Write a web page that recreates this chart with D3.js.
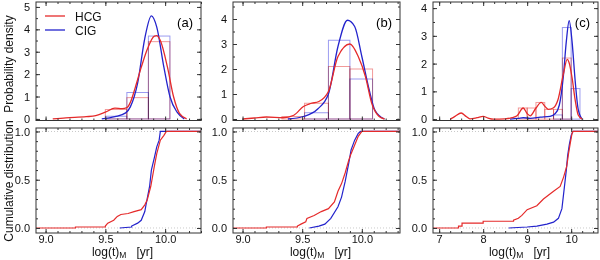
<!DOCTYPE html>
<html>
<head>
<meta charset="utf-8">
<script src="https://cdn.jsdelivr.net/npm/d3@7"></script>
<style>
  body { margin: 0; background: #fff; }
  svg { font-family: "Liberation Sans", Arial, sans-serif; }
</style>
</head>
<body>
<div id="chart"></div>
<script>
// ---- data ----
var seriesNames = ["HCG", "CIG"];
var panelLabels = ["(a)", "(b)", "(c)"];

// kernel density curves, [log t, density]
var hcgKdeA = [[9.06,0],[9.17,0.05],[9.34,0.1],[9.42,0.15],[9.5,0.3],[9.58,0.48],[9.64,0.46],[9.68,0.5],[9.71,0.75],[9.75,1.4],[9.8,2.3],[9.85,3.1],[9.91,3.7],[9.93,3.72],[9.96,3.5],[10.02,2.3],[10.07,1.0],[10.12,0.25],[10.18,0]];
var cigKdeA = [[9.47,0],[9.58,0.1],[9.67,0.27],[9.71,0.55],[9.77,1.6],[9.83,3.6],[9.885,4.6],[9.93,4.1],[9.99,2.3],[10.04,1.0],[10.1,0.3],[10.16,0]];
var hcgKdeB = [[9.0,0],[9.1,0.04],[9.2,0.08],[9.34,0.05],[9.43,0.15],[9.51,0.5],[9.57,0.62],[9.64,0.7],[9.72,1.1],[9.8,2.5],[9.9,3.0],[9.97,2.5],[10.03,1.7],[10.085,0.6],[10.145,0.1],[10.19,0]];
var cigKdeB = [[9.38,0],[9.51,0.1],[9.63,0.4],[9.72,1.0],[9.8,2.9],[9.88,3.95],[9.94,3.7],[10.0,2.5],[10.06,1.2],[10.11,0.35],[10.19,0]];
var hcgKdeC = [[7.25,0],[7.36,0.1],[7.5,0.22],[7.61,0.1],[7.7,0.01],[7.86,0.05],[8.0,0.1],[8.11,0.04],[8.23,0],[8.5,0.01],[8.66,0.05],[8.77,0.12],[8.91,0.4],[9.0,0.2],[9.07,0.12],[9.2,0.4],[9.32,0.6],[9.41,0.45],[9.48,0.35],[9.59,0.4],[9.7,0.7],[9.82,1.6],[9.91,2.15],[9.95,2.05],[10.02,1.5],[10.09,0.7],[10.16,0.15],[10.25,0]];
var cigKdeC = [[8.61,0],[8.8,0.03],[8.91,0.05],[9.07,0.03],[9.3,0.07],[9.52,0.1],[9.64,0.2],[9.73,0.5],[9.82,1.5],[9.89,2.8],[9.955,3.55],[10.02,2.8],[10.09,1.4],[10.16,0.35],[10.25,0]];

// histograms: bin edges and heights
var binEdgesA = [9.5, 9.68, 9.86, 10.04];
var hcgHistA = [0.42, 0.95, 3.45];
var cigHistA = [0.12, 1.18, 3.7];
var binEdgesB = [9.33, 9.52, 9.72, 9.9, 10.09];
var hcgHistB = [0.1, 0.63, 2.1, 2.0];
var cigHistB = [0, 0.25, 3.15, 1.6];
var binEdgesC = [8.8, 9.0, 9.2, 9.4, 9.6, 9.8, 10.0, 10.2];
var hcgHistC = [0.4, 0.4, 0.6, 0.35, 0.35, 2.2, 0];
var cigHistC = [0, 0, 0, 0, 0.15, 3.3, 1.1];

// cumulative distributions, [log t, fraction]
var hcgCumA = [[9.25,0],[9.25,0.01],[9.5,0.01],[9.5,0.02],[9.52,0.05],[9.57,0.08],[9.6,0.12],[9.63,0.14],[9.69,0.15],[9.74,0.17],[9.8,0.19],[9.83,0.24],[9.85,0.29],[9.88,0.43],[9.91,0.64],[9.93,0.77],[9.96,0.91],[9.99,0.96],[10.01,1.0]];
var cigCumA = [[9.62,0],[9.72,0.01],[9.72,0.02],[9.77,0.05],[9.8,0.08],[9.83,0.17],[9.84,0.24],[9.87,0.43],[9.885,0.6],[9.91,0.73],[9.93,0.84],[9.95,0.91],[9.96,1.0]];
var hcgCumB = [[9.2,0],[9.2,0.01],[9.46,0.01],[9.46,0.02],[9.49,0.04],[9.53,0.065],[9.54,0.1],[9.6,0.13],[9.66,0.17],[9.72,0.2],[9.77,0.27],[9.8,0.38],[9.83,0.46],[9.86,0.57],[9.89,0.7],[9.91,0.77],[9.94,0.86],[9.97,0.95],[10.0,1.0]];
var cigCumB = [[9.56,0],[9.64,0.02],[9.69,0.04],[9.74,0.1],[9.8,0.22],[9.83,0.32],[9.86,0.48],[9.89,0.67],[9.91,0.81],[9.94,0.91],[9.97,0.98],[9.99,1.0]];
var hcgCumC = [[7.44,0],[7.44,0.02],[7.52,0.02],[7.52,0.05],[8.0,0.05],[8.0,0.07],[8.69,0.07],[8.69,0.08],[8.8,0.1],[8.88,0.13],[9.0,0.19],[9.22,0.23],[9.37,0.3],[9.6,0.38],[9.75,0.43],[9.83,0.53],[9.9,0.64],[9.94,0.77],[9.98,0.88],[10.02,0.98],[10.04,1.0]];
var cigCumC = [[8.58,0],[9.0,0.01],[9.22,0.02],[9.45,0.04],[9.6,0.06],[9.71,0.1],[9.79,0.2],[9.84,0.4],[9.89,0.6],[9.92,0.75],[9.96,0.87],[10.0,0.96],[10.04,1.0]];

// tick values
var xTicksAB = [9.0, 9.5, 10.0];
var xTicksC = [7, 8, 9, 10];
var pdfTicksA = [0, 1, 2, 3, 4, 5];
var pdfTicksBC = [0, 1, 2, 3, 4];
var cumTicks = [0, 0.5, 1.0];

// ---- layout ----
var red = "#e52a2a", blue = "#2323cc";
var redHist = "#f29a9a", blueHist = "#9c9cf0";

var svg = d3.select("#chart").append("svg")
    .attr("width", 600)
    .attr("height", 260);

var panels = [
  { x0: 36, x1: 201, xdom: [8.92, 10.3], xt: xTicksAB, xminor: 0.1, xfmt: ".1f",
    ydom: [-0.07, 5.22], yt: pdfTicksA, hcg: hcgKdeA, cig: cigKdeA,
    edges: binEdgesA, hh: hcgHistA, ch: cigHistA, hc: hcgCumA, cc: cigCumA },
  { x0: 233, x1: 400, xdom: [8.92, 10.32], xt: xTicksAB, xminor: 0.1, xfmt: ".1f",
    ydom: [-0.06, 4.68], yt: pdfTicksBC, hcg: hcgKdeB, cig: cigKdeB,
    edges: binEdgesB, hh: hcgHistB, ch: cigHistB, hc: hcgCumB, cc: cigCumB },
  { x0: 433, x1: 598, xdom: [6.86, 10.61], xt: xTicksC, xminor: 0.25, xfmt: "d",
    ydom: [-0.05, 4.22], yt: pdfTicksBC, hcg: hcgKdeC, cig: cigKdeC,
    edges: binEdgesC, hh: hcgHistC, ch: cigHistC, hc: hcgCumC, cc: cigCumC }
];

var topY = [2, 120.5], botY = [128, 233];

function minorVals(dom, step) {
  var out = [];
  var s = Math.ceil(dom[0] / step) * step;
  for (var v = s; v <= dom[1] + 1e-9; v += step) out.push(+v.toFixed(4));
  return out;
}

function frameAxes(g, x, y, yt, ymin, showX, p, yfmt) {
  var x0 = x.range()[0], x1 = x.range()[1];
  var yb = y.range()[0], yt0 = y.range()[1];
  var xm = minorVals(x.domain(), p.xminor);
  var ym = minorVals(y.domain(), ymin);

  // minor ticks
  g.append("g").attr("transform", "translate(0," + yb + ")")
    .call(d3.axisBottom(x).tickValues(xm).tickSize(-2).tickFormat(""));
  g.append("g").attr("transform", "translate(0," + yt0 + ")")
    .call(d3.axisTop(x).tickValues(xm).tickSize(-2).tickFormat(""));
  g.append("g").attr("transform", "translate(" + x0 + ",0)")
    .call(d3.axisLeft(y).tickValues(ym).tickSize(-2).tickFormat(""));
  g.append("g").attr("transform", "translate(" + x1 + ",0)")
    .call(d3.axisRight(y).tickValues(ym).tickSize(-2).tickFormat(""));

  // major ticks
  g.append("g").attr("transform", "translate(0," + yb + ")")
    .call(d3.axisBottom(x).tickValues(p.xt).tickSize(-4).tickPadding(2)
      .tickFormat(showX ? d3.format(p.xfmt) : ""));
  g.append("g").attr("transform", "translate(0," + yt0 + ")")
    .call(d3.axisTop(x).tickValues(p.xt).tickSize(-4).tickFormat(""));
  g.append("g").attr("transform", "translate(" + x0 + ",0)")
    .call(d3.axisLeft(y).tickValues(yt).tickSize(-4).tickPadding(6).tickFormat(d3.format(yfmt)));
  g.append("g").attr("transform", "translate(" + x1 + ",0)")
    .call(d3.axisRight(y).tickValues(yt).tickSize(-4).tickFormat(""));

  g.selectAll(".domain").remove();
  g.selectAll(".tick line").attr("stroke", "#333");
  g.selectAll(".tick text").attr("font-size", 11).attr("fill", "#111")
    .attr("font-family", "Liberation Sans, Arial, sans-serif");

  g.append("rect")
    .attr("x", x0).attr("y", yt0)
    .attr("width", x1 - x0).attr("height", yb - yt0)
    .attr("fill", "none").attr("stroke", "#333").attr("stroke-width", 1);
}

panels.forEach(function(p, i) {
  var x = d3.scaleLinear().domain(p.xdom).range([p.x0, p.x1]);
  var yP = d3.scaleLinear().domain(p.ydom).range([topY[1], topY[0]]);
  var yC = d3.scaleLinear().domain([-0.052, 1.036]).range([botY[1], botY[0]]);

  // ---------- top: density ----------
  var gt = svg.append("g");
  var clipT = "clipT" + i;
  svg.append("clipPath").attr("id", clipT).append("rect")
    .attr("x", p.x0).attr("y", topY[0]).attr("width", p.x1 - p.x0).attr("height", topY[1] - topY[0]);
  var plotT = gt.append("g").attr("clip-path", "url(#" + clipT + ")");

  function hist(vals, col) {
    plotT.append("g").selectAll("rect")
      .data(vals.map(function(v, k) { return { a: p.edges[k], b: p.edges[k + 1], v: v }; })
        .filter(function(d) { return d.v > 0; }))
      .enter().append("rect")
      .attr("x", function(d) { return x(d.a); })
      .attr("width", function(d) { return x(d.b) - x(d.a); })
      .attr("y", function(d) { return yP(d.v); })
      .attr("height", function(d) { return yP(0) - yP(d.v); })
      .attr("fill", "none").attr("stroke", col).attr("stroke-width", 1)
      .style("mix-blend-mode", "multiply");
  }
  hist(p.hh, redHist);
  hist(p.ch, blueHist);

  var kde = d3.line()
    .x(function(d) { return x(d[0]); })
    .y(function(d) { return yP(d[1]); })
    .curve(d3.curveMonotoneX);
  plotT.append("path").datum(p.cig).attr("d", kde)
    .attr("fill", "none").attr("stroke", blue).attr("stroke-width", 1.3);
  plotT.append("path").datum(p.hcg).attr("d", kde)
    .attr("fill", "none").attr("stroke", red).attr("stroke-width", 1.3);

  frameAxes(gt, x, yP, p.yt, 0.5, false, p, "d");

  gt.append("text")
    .attr("x", p.x1 - 8).attr("y", 27)
    .attr("text-anchor", "end").attr("font-size", 13)
    .text(panelLabels[i]);

  // ---------- bottom: cumulative ----------
  var gb = svg.append("g");
  var clipB = "clipB" + i;
  svg.append("clipPath").attr("id", clipB).append("rect")
    .attr("x", p.x0).attr("y", botY[0]).attr("width", p.x1 - p.x0).attr("height", botY[1] - botY[0]);
  var plotB = gb.append("g").attr("clip-path", "url(#" + clipB + ")");

  [0, 1].forEach(function(v) {
    plotB.append("line")
      .attr("x1", p.x0).attr("x2", p.x1)
      .attr("y1", yC(v)).attr("y2", yC(v))
      .attr("stroke", "#bbb").attr("stroke-width", 0.8).attr("stroke-dasharray", "1,2");
  });

  var cum = d3.line()
    .x(function(d) { return x(d[0]); })
    .y(function(d) { return yC(d[1]); });
  var hc = [[p.xdom[0], 0]].concat(p.hc, [[p.xdom[1], 1]]);
  var cc = p.cc.concat([[p.xdom[1], 1]]);
  plotB.append("path").datum(cc).attr("d", cum)
    .attr("fill", "none").attr("stroke", blue).attr("stroke-width", 1.2);
  plotB.append("path").datum(hc).attr("d", cum)
    .attr("fill", "none").attr("stroke", red).attr("stroke-width", 1.2);

  frameAxes(gb, x, yC, cumTicks, 0.1, true, p, ".1f");

  // x title
  var xt = gb.append("text")
    .attr("x", (p.x0 + p.x1) / 2 + 4).attr("y", 256)
    .attr("text-anchor", "middle").attr("font-size", 12).attr("fill", "#111");
  xt.append("tspan").text("log(t)");
  xt.append("tspan").attr("font-size", 8.5).attr("dy", 2).text("M");
  xt.append("tspan").attr("dy", -2).text("\u00a0\u00a0\u00a0[yr]");
});

// y titles
svg.append("text")
  .attr("transform", "translate(13,64) rotate(-90)")
  .attr("text-anchor", "middle").attr("font-size", 12).attr("fill", "#111")
  .text("Probability density");
svg.append("text")
  .attr("transform", "translate(13,181) rotate(-90)")
  .attr("text-anchor", "middle").attr("font-size", 12).attr("fill", "#111")
  .text("Cumulative distribution");

// legend in panel (a)
var legend = svg.append("g");
[red, blue].forEach(function(c, k) {
  var ly = 16 + k * 14;
  legend.append("line")
    .attr("x1", 45).attr("x2", 65).attr("y1", ly).attr("y2", ly)
    .attr("stroke", c).attr("stroke-width", 1.3);
  legend.append("text")
    .attr("x", 75).attr("y", ly + 4.5)
    .attr("font-size", 12).attr("fill", "#111")
    .text(seriesNames[k]);
});
</script>
</body>
</html>
